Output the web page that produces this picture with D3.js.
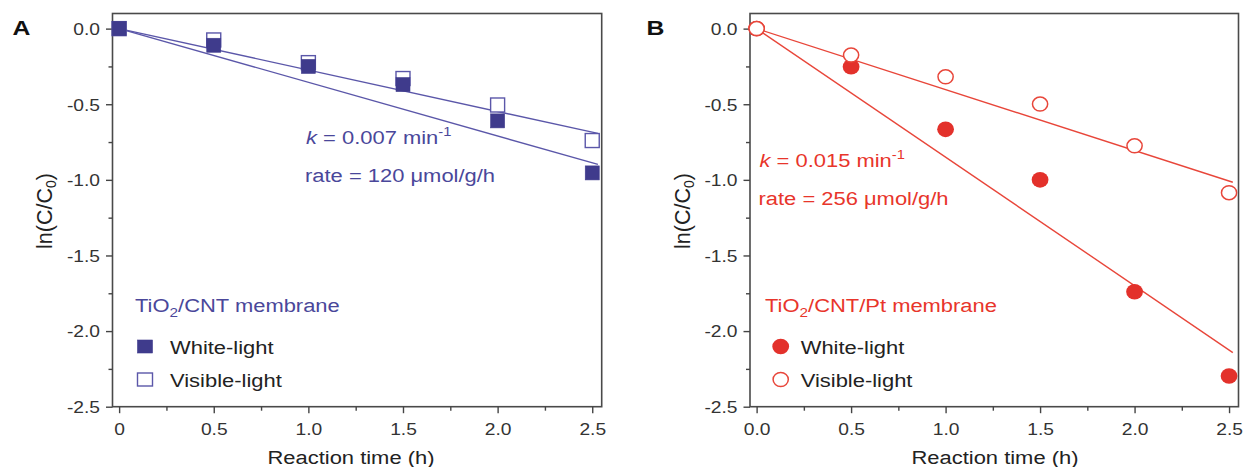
<!DOCTYPE html>
<html><head><meta charset="utf-8">
<script src="https://cdn.jsdelivr.net/npm/d3@7"></script>
<style>
body{margin:0;background:#fff}
svg{display:block;font-family:"Liberation Sans",Arial,sans-serif;background:#fff}
</style></head><body>
<svg id="c" width="1245" height="467"></svg>
<script>
// ---- data ----
const timeH = [0, 0.5, 1.0, 1.5, 2.0, 2.5];
const whiteA = [0, -0.11, -0.25, -0.37, -0.61, -0.954];
const visibleA = [0, -0.075, -0.225, -0.33, -0.505, -0.74];
const whiteB = [0, -0.252, -0.666, -1.0, -1.74, -2.297];
const visibleB = [0, -0.175, -0.319, -0.499, -0.775, -1.085];
const fitXA = [0, 2.53];
const fitWhiteA = [0, -0.898];
const fitVisibleA = [0, -0.693];
const fitXB = [0, 2.52];
const fitWhiteB = [0, -2.142];
const fitVisibleB = [0, -1.016];
const xTickValues = [0, 0.5, 1.0, 1.5, 2.0, 2.5];
const xTickLabelsA = ["0", "0.5", "1.0", "1.5", "2.0", "2.5"];
const xTickLabelsB = ["0.0", "0.5", "1.0", "1.5", "2.0", "2.5"];
const xMinor = [0.25, 0.75, 1.25, 1.75, 2.25];
const yTickValues = [0, -0.5, -1.0, -1.5, -2.0, -2.5];
const yTickLabels = ["0.0", "-0.5", "-1.0", "-1.5", "-2.0", "-2.5"];
const yMinor = [-0.25, -0.75, -1.25, -1.75, -2.25];
const legendLabels = ["White-light", "Visible-light"];

// ---- layout/style ----
const SX = 1.18;
const svg = d3.select("#c");
const top0 = 13.5, bot0 = 406.7;
const y = d3.scaleLinear().domain([0.1, -2.5]).range([top0, bot0]);

const panels = [
  {letter: "A", lx: 12.5, x0: 112.5, x1: 601.7, xLabels: xTickLabelsA,
   white: whiteA, visible: visibleA, fitX: fitXA, fitW: fitWhiteA, fitV: fitVisibleA,
   mark: "square", dark: "#3f3b8c", light: "#5b57a9", textCol: "#4a479a",
   k: "0.007", rate: "120", annX: 306, annY: 143.5,
   legTitle: "/CNT membrane", legX: 135, titleCx: 351},
  {letter: "B", lx: 646.5, x0: 750, x1: 1238.5, xLabels: xTickLabelsB,
   white: whiteB, visible: visibleB, fitX: fitXB, fitW: fitWhiteB, fitV: fitVisibleB,
   mark: "circle", dark: "#e3312b", light: "#e8463a", textCol: "#e8352b",
   k: "0.015", rate: "256", annX: 759.5, annY: 166.5,
   legTitle: "/CNT/Pt membrane", legX: 765, titleCx: 995}
];

function stext(g, x, yy, anchor) {
  return g.append("text")
    .attr("transform", `translate(${x},${yy}) scale(${SX},1)`)
    .attr("text-anchor", anchor || "start");
}

panels.forEach(p => {
  const g = svg.append("g");
  const x = d3.scaleLinear().domain([-0.035, 2.55]).range([p.x0, p.x1]);

  // frame
  g.append("rect").attr("x", p.x0).attr("y", top0)
    .attr("width", p.x1 - p.x0).attr("height", bot0 - top0)
    .attr("fill", "none").attr("stroke", "#4a4a4a").attr("stroke-width", 1.6);

  // axes
  const yAx = g.append("g").attr("transform", `translate(${p.x0},0)`)
    .call(d3.axisLeft(y).tickValues(yTickValues).tickSize(6.5)
      .tickFormat((d, i) => yTickLabels[i]));
  const yAxMin = g.append("g").attr("transform", `translate(${p.x0},0)`)
    .call(d3.axisLeft(y).tickValues(yMinor).tickSize(4).tickFormat(""));
  const xAx = g.append("g").attr("transform", `translate(0,${bot0})`)
    .call(d3.axisBottom(x).tickValues(xTickValues).tickSize(6.5)
      .tickFormat((d, i) => p.xLabels[i]));
  const xAxMin = g.append("g").attr("transform", `translate(0,${bot0})`)
    .call(d3.axisBottom(x).tickValues(xMinor).tickSize(4).tickFormat(""));
  [yAx, yAxMin, xAx, xAxMin].forEach(a => {
    a.select(".domain").remove();
    a.selectAll("line").attr("stroke", "#444").attr("stroke-width", 1.4);
    a.selectAll("text").attr("fill", "#333").attr("font-size", 16.3)
      .attr("font-family", '"Liberation Sans",Arial,sans-serif');
  });
  yAx.selectAll("text").attr("x", -12.5 / SX).attr("dy", null).attr("y", 5.8)
    .attr("transform", `scale(${SX},1)`);
  xAx.selectAll("text").attr("y", 28.3).attr("dy", null)
    .attr("transform", `scale(${SX},1)`);

  // axis titles
  stext(g, p.titleCx, 464, "middle").attr("font-size", 18.6).attr("fill", "#222")
    .text("Reaction time (h)");
  const yl = g.append("text")
    .attr("transform", `translate(${p.x0 - 60.5},211) rotate(-90)`)
    .attr("text-anchor", "middle").attr("font-size", 21.5).attr("fill", "#222");
  yl.append("tspan").text("ln(C/C");
  yl.append("tspan").attr("font-size", 14).attr("dy", 4).text("0");
  yl.append("tspan").attr("dy", -4).text(")");

  // panel letter
  stext(g, p.lx, 35, "start").attr("font-size", 21).attr("font-weight", "bold")
    .attr("fill", "#111").text(p.letter);

  // fit lines
  const line = d3.line().x(d => x(d[0])).y(d => y(d[1]));
  [p.fitW, p.fitV].forEach(fv => {
    g.append("path").datum(p.fitX.map((t, i) => [t, fv[i]]))
      .attr("d", line).attr("fill", "none")
      .attr("stroke", p.light).attr("stroke-width", 1.4);
  });

  // markers
  const wPts = timeH.map((t, i) => [t, p.white[i]]);
  const vPts = timeH.map((t, i) => [t, p.visible[i]]);
  if (p.mark === "square") {
    g.selectAll(".vs").data(vPts).join("rect")
      .attr("x", d => x(d[0]) - 7).attr("y", d => y(d[1]) - 7)
      .attr("width", 14).attr("height", 14)
      .attr("fill", "#fff").attr("stroke", p.light).attr("stroke-width", 1.4);
    g.selectAll(".ws").data(wPts).join("rect")
      .attr("x", d => x(d[0]) - 7).attr("y", d => y(d[1]) - 7)
      .attr("width", 14).attr("height", 14)
      .attr("fill", p.dark).attr("stroke", p.dark).attr("stroke-width", 0.6);
  } else {
    g.selectAll(".wc").data(wPts).join("ellipse")
      .attr("cx", d => x(d[0])).attr("cy", d => y(d[1]))
      .attr("rx", 8.4).attr("ry", 7.8).attr("fill", p.dark);
    g.selectAll(".vc").data(vPts).join("ellipse")
      .attr("cx", d => x(d[0])).attr("cy", d => y(d[1]))
      .attr("rx", 7.6).attr("ry", 7.0)
      .attr("fill", "#fff").attr("stroke", p.light).attr("stroke-width", 1.5);
  }

  // annotations
  const k = stext(g, p.annX, p.annY).attr("font-size", 18.6).attr("fill", p.textCol);
  k.append("tspan").attr("font-style", "italic").text("k");
  k.append("tspan").text(` = ${p.k} min`);
  k.append("tspan").attr("font-size", 12.5).attr("dy", -7.5).text("-1");
  stext(g, p.annX - 1, p.annY + 38.2).attr("font-size", 18.6).attr("fill", p.textCol)
    .text(`rate = ${p.rate} \u03bcmol/g/h`);

  // legend
  const lt = stext(g, p.legX, 311.7).attr("font-size", 18.6).attr("fill", p.textCol);
  lt.append("tspan").text("TiO");
  lt.append("tspan").attr("font-size", 13).attr("dy", 5).text("2");
  lt.append("tspan").attr("dy", -5).text(p.legTitle);

  const lmx = p.mark === "square" ? p.x0 + 32.5 : p.x0 + 30.7;
  const lys = [346.5, 379.5];
  legendLabels.forEach((lab, i) => {
    if (p.mark === "square") {
      g.append("rect").attr("x", lmx - 7.5).attr("y", lys[i] - 6.5)
        .attr("width", 15).attr("height", 13)
        .attr("fill", i === 0 ? p.dark : "#fff")
        .attr("stroke", i === 0 ? p.dark : p.light).attr("stroke-width", i === 0 ? 0.6 : 1.4);
    } else {
      g.append("ellipse").attr("cx", lmx).attr("cy", lys[i])
        .attr("rx", i === 0 ? 8.4 : 7.6).attr("ry", i === 0 ? 7.8 : 7.0)
        .attr("fill", i === 0 ? p.dark : "#fff")
        .attr("stroke", i === 0 ? "none" : p.light).attr("stroke-width", 1.5);
    }
    stext(g, p.x0 + (p.mark === "square" ? 57.5 : 50.7), lys[i] + 7)
      .attr("font-size", 18.6).attr("fill", "#222").text(lab);
  });
});
</script>
</body></html>
